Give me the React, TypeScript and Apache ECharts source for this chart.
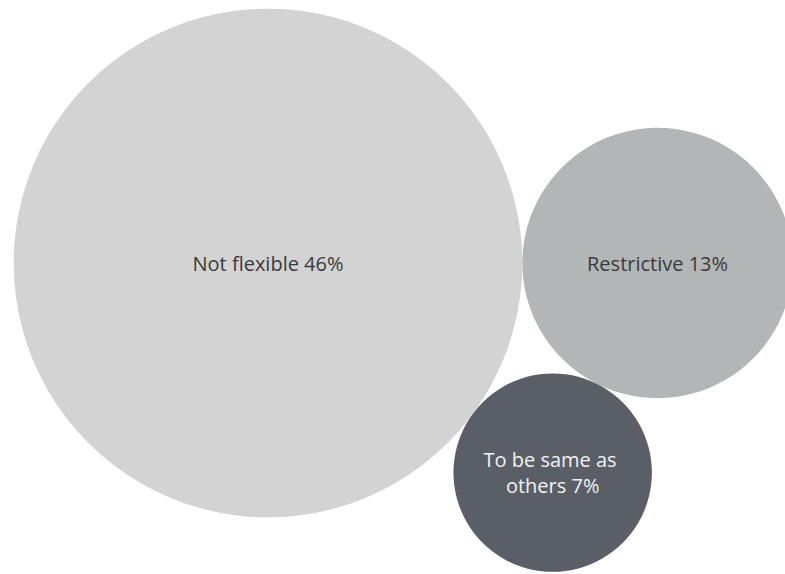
import React, { useEffect, useRef } from "react";
import * as echarts from "echarts";

const categories = ["Not flexible", "Restrictive", "To be same as others"];
const values = [46, 13, 7];
const colors = ["#d3d3d3", "#b3b6b7", "#5a5e66"];
const labelColors = ["#3a3a3a", "#3a3a3a", "#f2f2f2"];

const W = 785;
const H = 574;
const DIAM_PER_SQRT = 75; // bubble diameter in px per sqrt(value)
const ORIGIN = [268, 263]; // centre of the largest bubble

// simple front-chain packing: bubble 2 tangent to bubble 1 on the right,
// bubble 3 tangent to both, below them
function pack(vals: number[]) {
  const r = vals.map((v) => (DIAM_PER_SQRT * Math.sqrt(v)) / 2);
  const c: number[][] = [];
  c[0] = [ORIGIN[0], ORIGIN[1]];
  c[1] = [ORIGIN[0] + r[0] + r[1], ORIGIN[1]];
  const d12 = r[0] + r[1];
  const d13 = r[0] + r[2];
  const d23 = r[1] + r[2];
  const ax = (d13 * d13 - d23 * d23 + d12 * d12) / (2 * d12);
  const ay = Math.sqrt(Math.max(0, d13 * d13 - ax * ax));
  c[2] = [ORIGIN[0] + ax, ORIGIN[1] + ay];
  return c;
}

export default function App() {
  const ref = useRef<HTMLDivElement>(null);
  useEffect(() => {
    if (!ref.current) return;
    const chart = echarts.init(ref.current, undefined, { renderer: "svg" });
    const centres = pack(values);
    const data = categories.map((name, i) => ({
      name,
      value: [centres[i][0], centres[i][1], values[i]],
      itemStyle: { color: colors[i], opacity: 1 },
      label: {
        color: labelColors[i],
        ...(i === 2 ? { width: 140, overflow: "break" } : {}),
      },
    }));
    chart.setOption({
      animation: false,
      grid: { left: 0, top: 0, width: W, height: H },
      xAxis: { type: "value", min: 0, max: W, show: false },
      yAxis: { type: "value", min: 0, max: H, inverse: true, show: false },
      series: [
        {
          type: "scatter",
          data,
          clip: false,
          symbol: "circle",
          symbolSize: (val: number[]) => DIAM_PER_SQRT * Math.sqrt(val[2]),
          emphasis: { disabled: true },
          label: {
            show: true,
            position: "inside",
            fontFamily: "Open Sans",
            fontSize: 20,
            lineHeight: 26,
            align: "center",
            formatter: (p: any) => `${p.name} ${p.value[2]}%`,
          },
        },
      ],
    });
    return () => chart.dispose();
  }, []);
  return (
    <div
      ref={ref}
      style={{ position: "fixed", left: 0, top: 0, width: W, height: H, background: "#fff" }}
    />
  );
}
